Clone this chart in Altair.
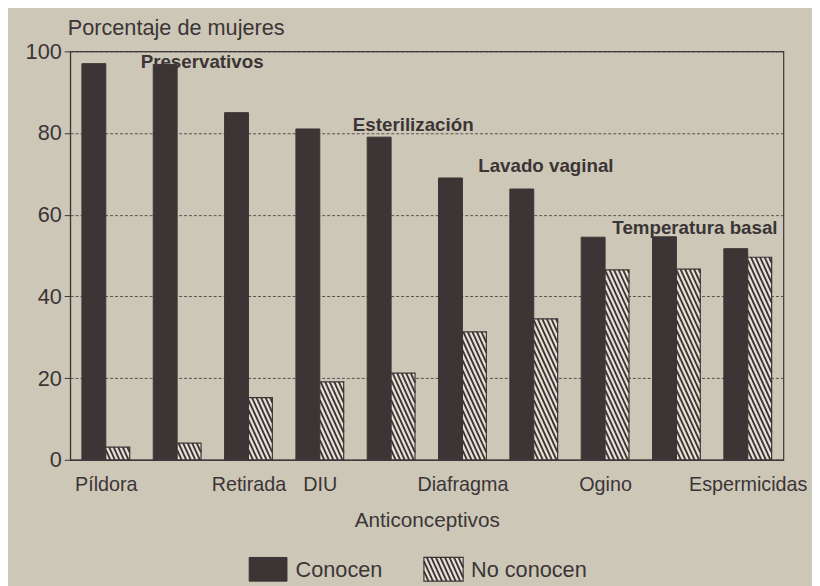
import altair as alt
import pandas as pd

# ---------------- data ----------------
categories = ["Píldora", "Preservativos", "Retirada", "DIU", "Esterilización",
              "Diafragma", "Lavado vaginal", "Ogino", "Temperatura basal", "Espermicidas"]
conocen = [97, 96.8, 85, 81, 79, 69, 66.3, 54.5, 54.6, 51.7]
no_conocen = [3.1, 4.1, 15.2, 19.1, 21.2, 31.3, 34.5, 46.5, 46.7, 49.6]
series = ["Conocen", "No conocen"]

axis_label_idx = [0, 2, 3, 5, 7, 9]      # categories labelled under the axis
annot_idx = [1, 4, 6, 8]                 # categories labelled above the bars
annot_x = [1.35, 4.31, 6.17, 8.26]       # label centre (category units)
annot_y = [96.0, 80.4, 70.5, 55.2]       # label baseline (percent)

# ---------------- layout / style ----------------
W, H = 723, 414
X_DOM = [-0.5, 9.5]
SX = W / (X_DOM[1] - X_DOM[0])
SY = H / 100.0
BAR_W = 0.335
DARK = "#3b3536"
LIGHT = "#e6e1d5"
BG = "#cdc7b7"
FONT = "Liberation Sans"


def hatch_segments(x0, x1, y0, y1, sx, sy, spacing=4.6, slope=2.2):
    w = (x1 - x0) * sx
    h = (y1 - y0) * sy
    segs = []
    c = -h / slope
    while c < w:
        va = max(0.0, -c * slope)
        vb = min(h, (w - c) * slope)
        if vb > va + 0.5:
            ua = c + va / slope
            ub = c + vb / slope
            segs.append((x0 + ua / sx, y1 - va / sy, x0 + ub / sx, y1 - vb / sy))
        c += spacing
    return segs


bars = []
hatch = []
for i, cat in enumerate(categories):
    bars.append({"cat": cat, "serie": "Conocen", "xs": i - BAR_W, "xe": i, "y0": 0, "y1": conocen[i]})
    bars.append({"cat": cat, "serie": "No conocen", "xs": i, "xe": i + BAR_W, "y0": 0, "y1": no_conocen[i]})
    for s in hatch_segments(i, i + BAR_W, 0, no_conocen[i], SX, SY):
        hatch.append({"hx": s[0], "hy": s[1], "hx2": s[2], "hy2": s[3]})
bars_df = pd.DataFrame(bars)
hatch_df = pd.DataFrame(hatch)
annot_df = pd.DataFrame({"txt": [categories[i] for i in annot_idx], "ax": annot_x, "ay": annot_y})

label_expr = "[" + ",".join("'" + c + "'" for c in categories) + "][datum.value]"

x_scale = alt.Scale(domain=X_DOM, nice=False, zero=False)
y_scale = alt.Scale(domain=[0, 100], nice=False)
x_axis = alt.Axis(values=axis_label_idx, labelExpr=label_expr, ticks=False, tickSize=0,
                  grid=False, labelPadding=15, labelFontSize=20, labelColor=DARK,
                  labelFont=FONT, title="Anticonceptivos", titleFontSize=21,
                  titleFontWeight="normal", titleColor=DARK, titleFont=FONT,
                  titlePadding=16, domainColor=DARK, labelFlush=False)
y_axis = alt.Axis(values=[0, 20, 40, 60, 80, 100], tickSize=6, tickColor=DARK,
                  labelPadding=3, labelFontSize=22, labelColor=DARK, labelFont=FONT,
                  grid=True, gridDash=[3, 2], gridColor="#4a4445", gridWidth=0.9,
                  domainColor=DARK, title="Porcentaje de mujeres", titleAngle=0,
                  titleAlign="left", titleBaseline="alphabetic", titleX=-3, titleY=-17,
                  titleFontSize=22, titleFontWeight="normal", titleColor=DARK, titleFont=FONT)

base = alt.Chart(bars_df)
dark_bars = base.transform_filter(alt.datum.serie == "Conocen").mark_rect(
    fill=DARK, stroke=DARK, strokeWidth=1).encode(
    x=alt.X("xs:Q", scale=x_scale, axis=x_axis), x2="xe:Q",
    y=alt.Y("y0:Q", scale=y_scale, axis=y_axis), y2="y1:Q")
light_bars = base.transform_filter(alt.datum.serie == "No conocen").mark_rect(
    fill=LIGHT, stroke=DARK, strokeWidth=1.2).encode(
    x=alt.X("xs:Q", scale=x_scale, axis=x_axis), x2="xe:Q",
    y=alt.Y("y0:Q", scale=y_scale, axis=y_axis), y2="y1:Q")
hatch_lines = alt.Chart(hatch_df).mark_rule(color=DARK, strokeWidth=1.9).encode(
    x=alt.X("hx:Q", scale=x_scale, axis=x_axis), x2="hx2:Q",
    y=alt.Y("hy:Q", scale=y_scale, axis=y_axis), y2="hy2:Q")
annots = alt.Chart(annot_df).mark_text(font=FONT, fontSize=19, fontWeight="bold",
                                       color=DARK, baseline="alphabetic", align="center").encode(
    x=alt.X("ax:Q", scale=x_scale, axis=x_axis),
    y=alt.Y("ay:Q", scale=y_scale, axis=y_axis), text="txt:N")

main = alt.layer(dark_bars, light_bars, hatch_lines, annots).properties(
    width=W, height=H, view=alt.ViewBackground(stroke=DARK, strokeWidth=1.2))

# ---------------- legend ----------------
LEG_H = 24
leg_box_x = [(2.01, 2.54), (4.46, 5.01)]
leg_txt_x = [2.66, 5.12]
leg_df = pd.DataFrame({"serie": series, "xs": [b[0] for b in leg_box_x],
                       "xe": [b[1] for b in leg_box_x], "tx": leg_txt_x,
                       "y0": [0, 0], "y1": [1, 1], "ym": [0.5, 0.5]})
leg_hatch = pd.DataFrame([{"hx": s[0], "hy": s[1], "hx2": s[2], "hy2": s[3]}
                          for s in hatch_segments(leg_box_x[1][0], leg_box_x[1][1], 0, 1, SX, LEG_H)])
lx = alt.Scale(domain=X_DOM, nice=False, zero=False)
ly = alt.Scale(domain=[0, 1], nice=False)
lbase = alt.Chart(leg_df)
leg_dark = lbase.transform_filter(alt.datum.serie == "Conocen").mark_rect(
    fill=DARK, stroke=DARK).encode(
    x=alt.X("xs:Q", scale=lx, axis=None), x2="xe:Q",
    y=alt.Y("y0:Q", scale=ly, axis=None), y2="y1:Q")
leg_light = lbase.transform_filter(alt.datum.serie == "No conocen").mark_rect(
    fill=LIGHT, stroke=DARK, strokeWidth=1.2).encode(
    x=alt.X("xs:Q", scale=lx, axis=None), x2="xe:Q",
    y=alt.Y("y0:Q", scale=ly, axis=None), y2="y1:Q")
leg_h = alt.Chart(leg_hatch).mark_rule(color=DARK, strokeWidth=1.9).encode(
    x=alt.X("hx:Q", scale=lx, axis=None), x2="hx2:Q",
    y=alt.Y("hy:Q", scale=ly, axis=None), y2="hy2:Q")
leg_txt = lbase.mark_text(font=FONT, fontSize=22, color=DARK, align="left",
                          baseline="middle", dy=1).encode(
    x=alt.X("tx:Q", scale=lx, axis=None), y=alt.Y("ym:Q", scale=ly, axis=None), text="serie:N")
legend = alt.layer(leg_dark, leg_light, leg_h, leg_txt).properties(
    width=W, height=LEG_H, view=alt.ViewBackground(stroke="transparent"))

chart = alt.vconcat(main, legend, spacing=24).properties(
    padding={"left": 16, "top": 4, "right": 4, "bottom": 2},
    background=BG)

chart.save("out.html", embed_options={"renderer": "svg", "actions": False})
